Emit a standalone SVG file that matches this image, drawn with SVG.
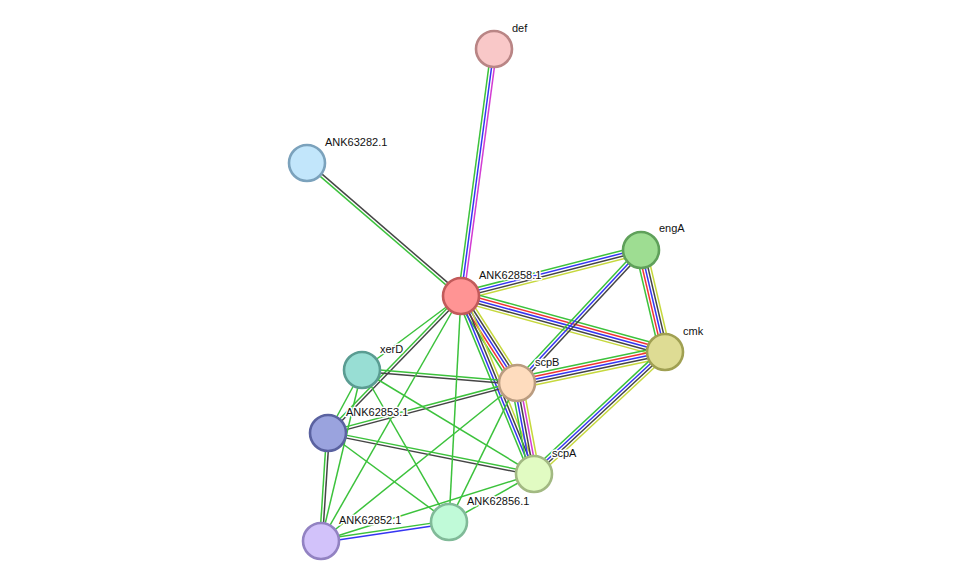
<svg xmlns="http://www.w3.org/2000/svg" width="976" height="587" viewBox="0 0 976 587">
<style>
line{stroke-width:1.5;fill:none}
.g{stroke:#3cc23c}.b{stroke:#3535f2}.r{stroke:#f03434}.k{stroke:#454545}.m{stroke:#d23cd2}.y{stroke:#c6d83c}
.n{stroke-width:2.6}
text{font-family:"Liberation Sans",Arial,sans-serif;font-size:11px;fill:#111;stroke:#fff;stroke-width:3;stroke-linejoin:round;paint-order:stroke}
</style>
<rect width="976" height="587" fill="#fff"/>
<g id="edges">
  <!-- ANK62858.1 - def -->
  <g transform="translate(461,296) rotate(-82.39)"><line class="g" x1="0" y1="-2.8" x2="249.2" y2="-2.8"/><line class="b" x1="0" y1="0" x2="249.2" y2="0"/><line class="m" x1="0" y1="2.8" x2="249.2" y2="2.8"/></g>
  <!-- ANK62858.1 - ANK63282.1 -->
  <g transform="translate(461,296) rotate(-139.19)"><line class="g" x1="0" y1="-1.4" x2="203.5" y2="-1.4"/><line class="k" x1="0" y1="1.4" x2="203.5" y2="1.4"/></g>
  <!-- ANK62858.1 - engA -->
  <g transform="translate(461,296) rotate(-14.34)"><line class="g" x1="0" y1="-4.2" x2="185.8" y2="-4.2"/><line class="b" x1="0" y1="-1.4" x2="185.8" y2="-1.4"/><line class="k" x1="0" y1="1.4" x2="185.8" y2="1.4"/><line class="y" x1="0" y1="4.2" x2="185.8" y2="4.2"/></g>
  <!-- ANK62858.1 - cmk -->
  <g transform="translate(461,296) rotate(15.35)"><line class="g" x1="0" y1="-5.6" x2="211.5" y2="-5.6"/><line class="r" x1="0" y1="-2.8" x2="211.5" y2="-2.8"/><line class="b" x1="0" y1="0" x2="211.5" y2="0"/><line class="k" x1="0" y1="2.8" x2="211.5" y2="2.8"/><line class="y" x1="0" y1="5.6" x2="211.5" y2="5.6"/></g>
  <!-- ANK62858.1 - scpB -->
  <g transform="translate(461,296) rotate(57.24)"><line class="g" x1="0" y1="5.6" x2="103.5" y2="5.6"/><line class="r" x1="0" y1="2.8" x2="103.5" y2="2.8"/><line class="b" x1="0" y1="0" x2="103.5" y2="0"/><line class="k" x1="0" y1="-2.8" x2="103.5" y2="-2.8"/><line class="y" x1="0" y1="-5.6" x2="103.5" y2="-5.6"/></g>
  <!-- ANK62858.1 - scpA -->
  <g transform="translate(461,296) rotate(67.70)"><line class="g" x1="0" y1="4.2" x2="192.4" y2="4.2"/><line class="b" x1="0" y1="1.4" x2="192.4" y2="1.4"/><line class="k" x1="0" y1="-1.4" x2="192.4" y2="-1.4"/><line class="y" x1="0" y1="-4.2" x2="192.4" y2="-4.2"/></g>
  <!-- cmk - engA -->
  <g transform="translate(665,352) rotate(-103.24)"><line class="g" x1="0" y1="-5.6" x2="104.8" y2="-5.6"/><line class="r" x1="0" y1="-2.8" x2="104.8" y2="-2.8"/><line class="b" x1="0" y1="0" x2="104.8" y2="0"/><line class="k" x1="0" y1="2.8" x2="104.8" y2="2.8"/><line class="y" x1="0" y1="5.6" x2="104.8" y2="5.6"/></g>
  <!-- scpB - engA -->
  <g transform="translate(517,383) rotate(-47.01)"><line class="g" x1="0" y1="-2.8" x2="181.8" y2="-2.8"/><line class="b" x1="0" y1="0" x2="181.8" y2="0"/><line class="k" x1="0" y1="2.8" x2="181.8" y2="2.8"/></g>
  <!-- scpB - cmk -->
  <g transform="translate(517,383) rotate(-11.83)"><line class="g" x1="0" y1="-5.6" x2="151.2" y2="-5.6"/><line class="r" x1="0" y1="-2.8" x2="151.2" y2="-2.8"/><line class="b" x1="0" y1="0" x2="151.2" y2="0"/><line class="k" x1="0" y1="2.8" x2="151.2" y2="2.8"/><line class="y" x1="0" y1="5.6" x2="151.2" y2="5.6"/></g>
  <!-- scpA - cmk -->
  <g transform="translate(534,474) rotate(-42.97)"><line class="g" x1="0" y1="-4.2" x2="179" y2="-4.2"/><line class="b" x1="0" y1="-1.4" x2="179" y2="-1.4"/><line class="k" x1="0" y1="1.4" x2="179" y2="1.4"/><line class="y" x1="0" y1="4.2" x2="179" y2="4.2"/></g>
  <!-- scpB - scpA -->
  <g transform="translate(517,383) rotate(79.42)"><line class="g" x1="0" y1="5.6" x2="92.6" y2="5.6"/><line class="b" x1="0" y1="2.8" x2="92.6" y2="2.8"/><line class="k" x1="0" y1="0" x2="92.6" y2="0"/><line class="m" x1="0" y1="-2.8" x2="92.6" y2="-2.8"/><line class="y" x1="0" y1="-5.6" x2="92.6" y2="-5.6"/></g>
  <!-- ANK62858.1 - ANK62853.1 -->
  <g transform="translate(461,296) rotate(134.15)"><line class="g" x1="0" y1="1.4" x2="190.9" y2="1.4"/><line class="k" x1="0" y1="-1.4" x2="190.9" y2="-1.4"/></g>
  <!-- xerD - scpB -->
  <g transform="translate(362,370) rotate(4.79)"><line class="g" x1="0" y1="-1.4" x2="155.5" y2="-1.4"/><line class="k" x1="0" y1="1.4" x2="155.5" y2="1.4"/></g>
  <!-- ANK62853.1 - scpB -->
  <g transform="translate(328,433) rotate(-14.82)"><line class="g" x1="0" y1="-1.4" x2="195.5" y2="-1.4"/><line class="k" x1="0" y1="1.4" x2="195.5" y2="1.4"/></g>
  <!-- ANK62853.1 - scpA -->
  <g transform="translate(328,433) rotate(11.26)"><line class="g" x1="0" y1="-1.4" x2="210" y2="-1.4"/><line class="k" x1="0" y1="1.4" x2="210" y2="1.4"/></g>
  <!-- ANK62853.1 - ANK62852.1 -->
  <g transform="translate(328,433) rotate(93.71)"><line class="g" x1="0" y1="1.4" x2="108.2" y2="1.4"/><line class="k" x1="0" y1="-1.4" x2="108.2" y2="-1.4"/></g>
  <!-- ANK62852.1 - ANK62856.1 -->
  <g transform="translate(321,541) rotate(-8.44)"><line class="g" x1="0" y1="-1.4" x2="129.4" y2="-1.4"/><line class="b" x1="0" y1="1.4" x2="129.4" y2="1.4"/></g>
  <!-- single green -->
  <line class="g" x1="461" y1="296" x2="362" y2="370"/>
  <line class="g" x1="461" y1="296" x2="321" y2="541"/>
  <line class="g" x1="461" y1="296" x2="449" y2="522"/>
  <line class="g" x1="362" y1="370" x2="534" y2="474"/>
  <line class="g" x1="362" y1="370" x2="449" y2="522"/>
  <line class="g" x1="362" y1="370" x2="328" y2="433"/>
  <line class="g" x1="362" y1="370" x2="321" y2="541"/>
  <line class="g" x1="328" y1="433" x2="449" y2="522"/>
  <line class="g" x1="321" y1="541" x2="534" y2="474"/>
  <line class="g" x1="321" y1="541" x2="517" y2="383"/>
  <line class="g" x1="449" y1="522" x2="534" y2="474"/>
  <line class="g" x1="449" y1="522" x2="517" y2="383"/>
</g>
<g id="def"><circle class="n" cx="494" cy="49" r="18" fill="#f9c8c8" stroke="#b98585"/><text x="512" y="32">def</text></g>
<g id="ANK63282.1"><circle class="n" cx="307" cy="163" r="18" fill="#c2e6fb" stroke="#7ba2bc"/><text x="325" y="146">ANK63282.1</text></g>
<g id="engA"><circle class="n" cx="641" cy="250" r="18" fill="#9edd92" stroke="#5fa05a"/><text x="659" y="232">engA</text></g>
<g id="ANK62858.1"><circle class="n" cx="461" cy="296" r="18" fill="#ff9494" stroke="#c25a5a"/><text x="479" y="279">ANK62858.1</text></g>
<g id="cmk"><circle class="n" cx="665" cy="352" r="18" fill="#dedc94" stroke="#a0a052"/><text x="683" y="335">cmk</text></g>
<g id="xerD"><circle class="n" cx="362" cy="370" r="18" fill="#98ded4" stroke="#5a9c92"/><text x="380" y="353">xerD</text></g>
<g id="scpB"><circle class="n" cx="517" cy="383" r="18" fill="#fedcbe" stroke="#ba9c80"/><text x="535" y="366">scpB</text></g>
<g id="ANK62853.1"><circle class="n" cx="328" cy="433" r="18" fill="#9aa3de" stroke="#5a62a0"/><text x="346" y="416">ANK62853.1</text></g>
<g id="scpA"><circle class="n" cx="534" cy="474" r="18" fill="#e1fbc2" stroke="#a2b982"/><text x="552" y="457">scpA</text></g>
<g id="ANK62856.1"><circle class="n" cx="449" cy="522" r="18" fill="#c0fad8" stroke="#80ba98"/><text x="467" y="505">ANK62856.1</text></g>
<g id="ANK62852.1"><circle class="n" cx="321" cy="541" r="18" fill="#d2c2fa" stroke="#9282c2"/><text x="339" y="524">ANK62852.1</text></g>
</svg>
